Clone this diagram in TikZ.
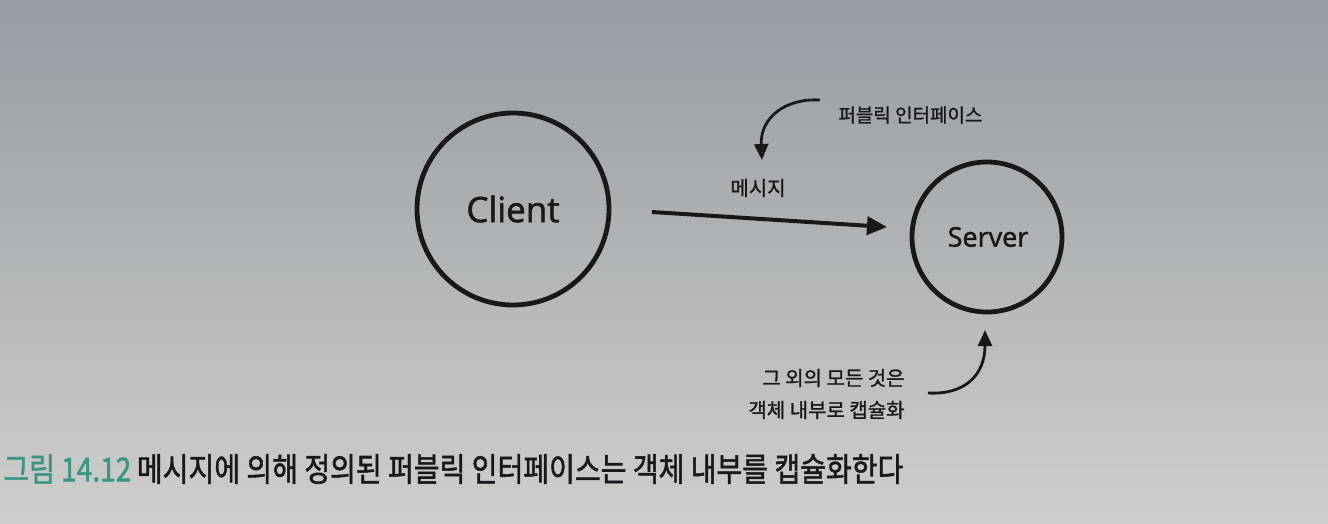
\documentclass[tikz,border=0pt]{standalone}
\usepackage{fontspec}
\setmainfont{Noto Sans CJK KR}
\newfontfamily\krfont[FakeBold=1.2]{Noto Sans CJK KR}
\newfontfamily\capfont[FakeBold=1.6]{Noto Sans CJK KR}
\newfontfamily\latfont[FakeBold=1.5]{Open Sans}
\usetikzlibrary{arrows.meta}
\definecolor{ink}{RGB}{24,24,26}
\definecolor{teal}{RGB}{60,150,135}
\definecolor{bgtop}{RGB}{150,156,162}
\definecolor{bgbot}{RGB}{206,206,204}
\tikzset{
  obj/.style={circle, draw=ink, line width=2.4pt, inner sep=0pt},
  lbl/.style={text=ink, font=\krfont\fontsize{9.5}{12}\selectfont, inner sep=0pt},
  conn/.style={draw=ink, line width=2pt, -{Triangle[length=10pt,width=9pt]}},
  callout/.style={draw=ink, line width=1.4pt, -{Triangle[length=8pt,width=7pt]}},
}
\begin{document}
\begin{tikzpicture}[x=0.5pt,y=-0.5pt]
\useasboundingbox (0,0) rectangle (1328,524);
\shade[top color=bgtop, bottom color=bgbot] (0,0) rectangle (1328,524);
\clip (0,0) rectangle (1328,524);
% objects
\node[obj, minimum size=96pt] (client) at (513,209) {};
\node[text=ink, font=\latfont\fontsize{17.5}{20}\selectfont] (clientt) at (513,209) {Client};
\node[obj, minimum size=75pt] (server) at (987,237) {};
\node[text=ink, font=\latfont\fontsize{13.5}{16}\selectfont] (servert) at (988,237) {Server};
% message
\coordinate (ms) at (652,212);
\coordinate (me) at (887,227);
\draw[conn] (ms) -- (me);
\node[lbl, font=\krfont\fontsize{10}{12}\selectfont] (msg) at (758,188) {메시지};
% public interface callout
\node[lbl, anchor=west] (pub) at (838,115) {퍼블릭 인터페이스};
\coordinate (pa) at (820,100);
\coordinate (pb) at (762,160);
\draw[callout] (pa) .. controls (785,98) and (760,118) .. (pb);
% encapsulation callout
\node[lbl, anchor=east, font=\krfont\fontsize{10}{12}\selectfont] (enc1) at (905,378) {그 외의 모든 것은};
\node[lbl, anchor=east, font=\krfont\fontsize{10}{12}\selectfont] (enc2) at (905,410) {객체 내부로 캡슐화};
\coordinate (ea) at (928,393);
\coordinate (eb) at (985,330);
\draw[callout] (ea) .. controls (965,395) and (985,375) .. (eb);
% caption
\node[anchor=west, inner sep=0pt, xscale=0.85, font=\capfont\fontsize{16.5}{18}\selectfont] (cap) at (3,469)
  {\textcolor{teal}{그림 14.12}\hspace{0.2em}\textcolor{ink}{메시지에 의해 정의된 퍼블릭 인터페이스는 객체 내부를 캡슐화한다}};
\end{tikzpicture}
\end{document}
